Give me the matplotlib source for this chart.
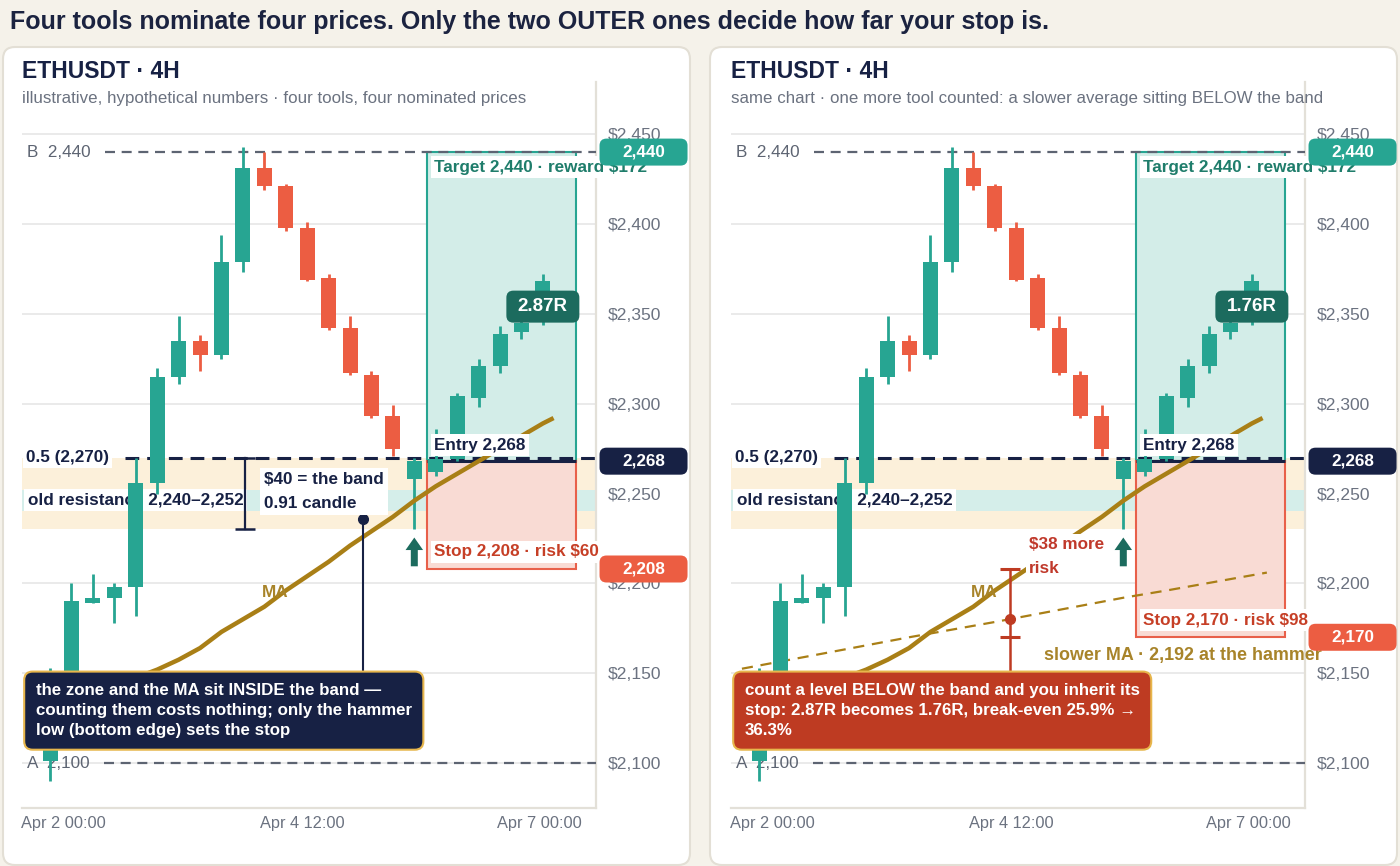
import matplotlib
matplotlib.use('Agg')
import matplotlib.pyplot as plt
import matplotlib.transforms as mtransforms
from matplotlib.patches import FancyBboxPatch, Rectangle
import numpy as np

plt.rcParams['font.family'] = ['Liberation Sans', 'DejaVu Sans']

# ---- candles (4H, illustrative) ----
opens = [2101, 2131, 2189, 2192, 2198, 2256, 2315, 2335, 2327, 2379, 2431, 2421,
         2398, 2370, 2342, 2316, 2293, 2258, 2262, 2269, 2303, 2321, 2340, 2346]
closes = [2131, 2190, 2192, 2198, 2256, 2315, 2335, 2327, 2379, 2431, 2421, 2398,
          2369, 2342, 2317, 2293, 2275, 2268, 2269, 2304, 2321, 2339, 2345, 2368]
highs = [2153, 2200, 2205, 2200, 2270, 2320, 2349, 2338, 2394, 2443, 2440, 2422,
         2401, 2372, 2349, 2318, 2299, 2270, 2286, 2306, 2325, 2343, 2348, 2372]
lows = [2090, 2125, 2189, 2178, 2182, 2250, 2311, 2318, 2325, 2373, 2419, 2396,
        2368, 2341, 2316, 2292, 2271, 2230, 2260, 2268, 2298, 2317, 2336, 2344]

# moving averages
ma_x = [3, 4, 5, 6, 7, 8, 9, 10, 11, 12, 13, 14, 15, 16, 17, 18, 19, 20, 21, 22, 23, 23.5]
ma_vals = [2143, 2147.5, 2152, 2157.5, 2164, 2173, 2180, 2187, 2196, 2204, 2212, 2221,
           2229, 2237, 2246, 2254, 2261, 2268, 2275, 2282, 2289, 2292]
slow_x = [-0.8, 3, 7, 11, 15, 17, 19, 23.7]
slow_vals = [2152.5, 2161, 2170, 2178.5, 2187.5, 2192, 2196, 2206]

# levels
level_b = 2440
level_a = 2100
fib_half = 2270
band_low = 2230
zone_lo, zone_hi = 2240, 2252
entry = 2268
target = 2440
stops = [2208, 2170]
r_multiples = ['2.87R', '1.76R']
hammer = 17

y_ticks = [2100, 2150, 2200, 2250, 2300, 2350, 2400, 2450]
x_tick_pos = [0.63, 11.76, 22.84]
x_tick_labels = ['Apr 2 00:00', 'Apr 4 12:00', 'Apr 7 00:00']

subtitles = ['illustrative, hypothetical numbers \u00b7 four tools, four nominated prices',
             'same chart \u00b7 one more tool counted: a slower average sitting BELOW the band']
notes = ['the zone and the MA sit INSIDE the band \u2014\ncounting them costs nothing; only the hammer\nlow (bottom edge) sets the stop',
         'count a level BELOW the band and you inherit its\nstop: 2.87R becomes 1.76R, break-even 25.9% \u2192\n36.3%']

# ---- colours ----
BG = '#f5f2ea'
NAVY = '#172144'
GREEN = '#27a592'
RED = '#ec5d42'
DARKTEAL = '#1c6b5e'
GOLD = '#a97f16'
GOLDTXT = '#a8842a'
GRAY = '#5d6472'
TICK = '#6b7280'
REDTXT = '#c63f26'
BOXRED = '#be3b22'
BORDER_GOLD = '#e7b64c'

W, H = 1400, 866
fig = plt.figure(figsize=(W / 100, H / 100), dpi=100)
fig.patch.set_facecolor(BG)

fig.text(10 / W, 1 - 22 / H,
         'Four tools nominate four prices. Only the two OUTER ones decide how far your stop is.',
         fontsize=18, fontweight='bold', color='#1b2340', va='center', ha='left')

TAG_X = 1.0828
box_x0, box_x1 = 17.6, 24.55


def tag(ax, y, text, color):
    tr = mtransforms.blended_transform_factory(ax.transAxes, ax.transData)
    off = fig.dpi_scale_trans + mtransforms.ScaledTranslation(TAG_X, y, tr)
    fig.add_artist(FancyBboxPatch((-0.44, -0.135), 0.88, 0.27,
                                  boxstyle='round,pad=0,rounding_size=0.07',
                                  transform=off, fc=color, ec='none', zorder=10))
    fig.text(TAG_X, y, text, transform=tr, ha='center', va='center', color='white',
             fontsize=12.3, fontweight='bold', zorder=11)


def badge(ax, x, y, text):
    off = fig.dpi_scale_trans + mtransforms.ScaledTranslation(x, y, ax.transData)
    fig.add_artist(FancyBboxPatch((-0.365, -0.16), 0.73, 0.32,
                                  boxstyle='round,pad=0,rounding_size=0.07',
                                  transform=off, fc=DARKTEAL, ec='none', zorder=10))
    fig.text(x, y, text, transform=ax.transData, ha='center', va='center', color='white',
             fontsize=13.5, fontweight='bold', zorder=11)


for p, px0 in enumerate([3, 710]):
    # white card
    fig.add_artist(FancyBboxPatch((px0 / 100, 0.01), 6.87, 8.18,
                                  boxstyle='round,pad=0,rounding_size=0.12',
                                  transform=fig.dpi_scale_trans, fc='white',
                                  ec='#e3dfd5', lw=1.5, zorder=-5))
    ax_left = 22 + 709 * p
    ax = fig.add_axes([ax_left / W, 58 / H, 574 / W, 726 / H])
    ax.set_facecolor('none')
    ax.set_xlim(-1.31, 25.48)
    ax.set_ylim(2075, 2479)

    fig.text(ax_left / W, 1 - 72 / H, 'ETHUSDT \u00b7 4H', fontsize=16.5,
             fontweight='bold', color=NAVY, va='center')
    fig.text(ax_left / W, 1 - 99 / H, subtitles[p], fontsize=12.2, color=TICK, va='center')

    for s in ['top', 'left']:
        ax.spines[s].set_visible(False)
    for s in ['right', 'bottom']:
        ax.spines[s].set_color('#e3e0d8')
        ax.spines[s].set_linewidth(1.6)
    ax.yaxis.tick_right()
    ax.set_yticks(y_ticks)
    ax.set_yticklabels([f'${v:,}' for v in y_ticks])
    ax.set_xticks(x_tick_pos)
    ax.set_xticklabels(x_tick_labels)
    ax.tick_params(axis='y', length=0, pad=8.5, labelsize=12.6, labelcolor=TICK)
    ax.tick_params(axis='x', length=0, pad=6, labelsize=11.8, labelcolor=TICK)
    ax.set_axisbelow(True)
    ax.grid(axis='y', color='#eaeaea', lw=1.4)

    stop = stops[p]

    # bands
    ax.axhspan(band_low, fib_half, color='#fcf0da', lw=0, zorder=1)
    ax.axhspan(zone_lo, zone_hi, color='#d5eeea', lw=0, zorder=1.1)

    # position tool
    ax.add_patch(Rectangle((box_x0, entry), box_x1 - box_x0, target - entry,
                           fc='#d3ede8', ec=GREEN, lw=1.5, zorder=2))
    ax.add_patch(Rectangle((box_x0, stop), box_x1 - box_x0, entry - stop,
                           fc='#f9dbd4', ec='#e8604a', lw=1.5, zorder=2))
    ax.hlines(entry, box_x0, box_x1, color=NAVY, lw=2.2, zorder=3)

    # level lines
    ax.axhline(level_b, xmin=0.145, color=GRAY, lw=1.6, ls=(0, (4.5, 3)), zorder=3)
    ax.axhline(level_a, xmin=0.143, color=GRAY, lw=1.6, ls=(0, (4.5, 3)), zorder=3)
    ax.axhline(fib_half, xmin=0.179, color=NAVY, lw=2.2, ls=(0, (4.5, 2.6)), zorder=3)

    ax.text(-1.07, level_b, 'B  2,440', color=GRAY, fontsize=12.3, va='center', zorder=3.6)
    ax.text(-1.07, level_a, 'A  2,100', color=GRAY, fontsize=12.3, va='center', zorder=3.6)
    ax.text(-1.12, fib_half, '0.5 (2,270)', color=NAVY, fontsize=12.3, fontweight='bold',
            va='center', zorder=3.6, bbox=dict(fc='white', ec='none', pad=2.5))
    ax.text(-1.04, 2246.5, 'old resistance 2,240\u20132,252', color=NAVY, fontsize=12.3,
            fontweight='bold', va='center', zorder=3.6, bbox=dict(fc='white', ec='none', pad=2.5))

    # slower MA (right panel only)
    if p == 1:
        ax.plot(slow_x, slow_vals, color=GOLD, lw=1.6, ls=(0, (5, 3.5)), zorder=3.5)

    # candles
    xs = np.arange(len(opens))
    up = np.array(closes) >= np.array(opens)
    cols = [GREEN if u else RED for u in up]
    ax.vlines(xs, lows, highs, colors=cols, lw=2, zorder=4)
    ax.bar(xs, np.abs(np.array(closes) - np.array(opens)),
           bottom=np.minimum(opens, closes), width=0.7, color=cols, zorder=4.1)

    # fast MA
    ax.plot(ma_x, ma_vals, color=GOLD, lw=3.2, zorder=5, solid_capstyle='butt')
    ax.text(10.5, 2195, 'MA', color=GOLDTXT, fontsize=12.3, fontweight='bold',
            ha='center', va='center', zorder=5)

    # hammer arrow
    ax.annotate('', xy=(hammer, 2225.5), xytext=(hammer, 2209.5),
                arrowprops=dict(arrowstyle='simple,head_length=0.75,head_width=1.05,tail_width=0.42',
                                fc=DARKTEAL, ec='none', mutation_scale=12,
                                shrinkA=0, shrinkB=0), zorder=6)

    # tool labels
    ax.annotate(f'Target {target:,} \u00b7 reward ${target - entry}', xy=(box_x0, target),
                xytext=(7, -15), textcoords='offset pixels', color='#1f7d6b', fontsize=12.3,
                fontweight='bold', va='center', zorder=6,
                bbox=dict(fc='white', ec='none', pad=2.5))
    ax.annotate(f'Entry {entry:,}', xy=(box_x0, entry), xytext=(7, 16),
                textcoords='offset pixels', color=NAVY, fontsize=12.3, fontweight='bold',
                va='center', zorder=6, bbox=dict(fc='white', ec='none', pad=2.5))
    ax.annotate(f'Stop {stop:,} \u00b7 risk ${entry - stop}', xy=(box_x0, stop),
                xytext=(7, 17), textcoords='offset pixels', color=REDTXT, fontsize=12.3,
                fontweight='bold', va='center', zorder=6,
                bbox=dict(fc='white', ec='none', pad=2.5))

    if p == 0:
        # band bracket
        ax.plot([9.1, 9.1], [band_low, fib_half], color=NAVY, lw=1.6, zorder=5)
        ax.plot([9.1, 9.1], [band_low, fib_half], ls='none', marker='_', ms=15,
                mew=1.8, color=NAVY, zorder=5)
        ax.text(10.0, 2251, f'${fib_half - band_low} = the band\n0.91 candle', color=NAVY,
                fontsize=12.3, fontweight='bold', va='center', linespacing=1.75, zorder=6,
                bbox=dict(fc='white', ec='none', pad=3))
        # leader to note
        ax.plot([14.6, 14.6], [2236, 2120], color=NAVY, lw=1.5, zorder=5.5)
        ax.plot([14.6], [2236], 'o', color=NAVY, ms=7, zorder=5.6)
        box_fc = NAVY
    else:
        bx = 11.71
        ax.plot([bx, bx], [stops[0], 2120], color=BOXRED, lw=1.8, zorder=5.5)
        ax.plot([bx, bx], [stops[0], stops[1]], ls='none', marker='_', ms=14,
                mew=2.2, color=BOXRED, zorder=5.5)
        ax.plot([bx], [np.interp(bx, slow_x, slow_vals)], 'o', color=BOXRED, ms=7, zorder=5.6)
        ax.text(12.6, 2215, f'${stops[0] - stops[1]} more\nrisk', color='#c0392b',
                fontsize=12.3, fontweight='bold', va='center', linespacing=1.75, zorder=6,
                bbox=dict(fc='white', ec='none', pad=2))
        ax.text(13.3, 2160, 'slower MA \u00b7 2,192 at the hammer', color=GOLDTXT,
                fontsize=12.9, fontweight='bold', va='center', zorder=6)
        box_fc = BOXRED

    ax.text(-0.67, 2144.5, notes[p], color='white', fontsize=12.2, fontweight='bold',
            ha='left', va='top', linespacing=1.42, zorder=8,
            bbox=dict(boxstyle='round,pad=0.68,rounding_size=0.5', fc=box_fc,
                      ec=BORDER_GOLD, lw=1.5))

    # price tags
    tag(ax, target, f'{target:,}', GREEN)
    tag(ax, entry, f'{entry:,}', NAVY)
    tag(ax, stop, f'{stop:,}', RED)
    badge(ax, 23, 2354, r_multiples[p])

fig.savefig('out.png', dpi=100, facecolor=BG)
